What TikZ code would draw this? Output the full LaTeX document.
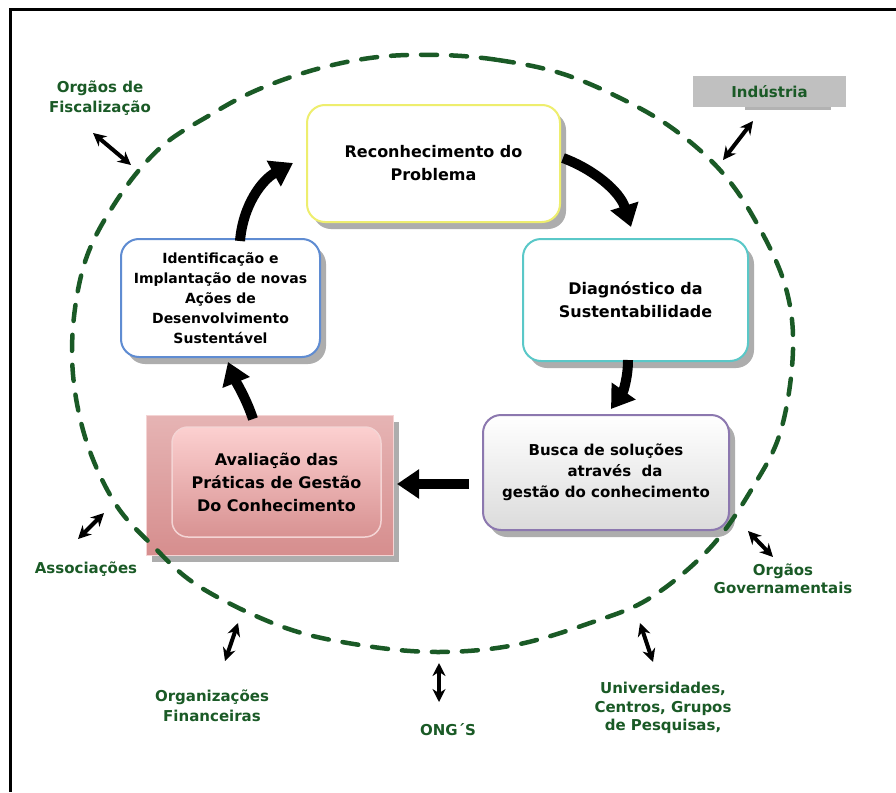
\documentclass[tikz,border=0pt]{standalone}
\usepackage{fontspec}
\setmainfont{DejaVu Sans}
\usetikzlibrary{arrows.meta,shadows}
\definecolor{lblgreen}{RGB}{26,90,38}
\definecolor{yellowb}{RGB}{238,238,110}
\definecolor{tealb}{RGB}{90,200,200}
\definecolor{purpleb}{RGB}{140,120,175}
\definecolor{blueb}{RGB}{95,140,210}
\definecolor{pinkouttop}{RGB}{230,180,180}
\definecolor{pinkoutbot}{RGB}{214,142,142}
\definecolor{pinkintop}{RGB}{252,208,208}
\definecolor{pinkinbot}{RGB}{216,146,146}
\definecolor{pinkedge}{RGB}{244,212,212}
\definecolor{indgray}{RGB}{192,192,192}
\begin{document}
\begin{tikzpicture}[x=1pt,y=-1pt,
  pbox/.style={rounded corners=18pt, line width=2pt, fill=white, align=center,
    inner sep=0pt,
    drop shadow={shadow xshift=6pt,shadow yshift=-7pt,fill=black!40,opacity=0.8}},
  boxfont/.style={font=\bfseries\fontsize{16}{23}\selectfont},
  lbl/.style={text=lblgreen, align=center, inner sep=0pt,
    font=\bfseries\fontsize{15}{20}\selectfont},
  bigarrow/.style={line width=10pt, -{Triangle[length=22pt,width=28pt]}},
  dbl/.style={line width=4pt, {Stealth[length=13pt,width=13pt]}-{Stealth[length=13pt,width=13pt]}},
  ring/.style={draw=lblgreen, line width=4.5pt, dash pattern=on 16pt off 14pt, line cap=round}
]
\useasboundingbox (0,0) rectangle (896,792);
\fill[white] (0,0) rectangle (896,792);
\draw[line width=3pt] (896,10) -- (10,10) -- (10,792);

% Industria box
\fill[black!30] (745,104) rectangle (831,110);
\node[fill=indgray, minimum width=153pt, minimum height=31pt, inner sep=0pt,
  text=lblgreen, font=\bfseries\fontsize{15}{20}\selectfont] (ind) at (769.5,91.5) {Indústria};

% main boxes
\node[pbox, draw=yellowb, minimum width=253pt, minimum height=117pt, boxfont] (rec) at (433.5,163.5) {Reconhecimento do\\Problema};
\node[pbox, draw=tealb, minimum width=225pt, minimum height=122pt, boxfont] (diag) at (635.5,300) {Diagnóstico da\\Sustentabilidade};
\node[pbox, draw=purpleb, minimum width=246pt, minimum height=115pt, top color=white, bottom color=black!14,
  font=\bfseries\fontsize{15}{21}\selectfont] (busca) at (606,472.5) {Busca de soluções\\\hspace*{1.2em}através\ \ da\\gestão do conhecimento};
\node[pbox, draw=blueb, minimum width=199pt, minimum height=118pt,
  font=\bfseries\fontsize{14}{20}\selectfont] (ident) at (220.5,298) {Identificação e\\Implantação de novas\\Ações de\\Desenvolvimento\\Sustentável};

\node[draw=pinkedge, line width=1pt, top color=pinkouttop, bottom color=pinkoutbot, minimum width=247pt, minimum height=140pt,
  drop shadow={shadow xshift=6pt,shadow yshift=-7pt,fill=black!40,opacity=0.8}] (avalout) at (269.5,485) {};
\node[draw=pinkedge, line width=1.5pt, rounded corners=16pt, top color=pinkintop, bottom color=pinkinbot,
  minimum width=209pt, minimum height=110pt, align=center, inner sep=0pt, boxfont] (aval) at (276.5,482) {Avaliação das\\Práticas de Gestão\\Do Conhecimento};

% dashed ring
\draw[ring] plot[smooth cycle, tension=0.6] coordinates {
 (440,55) (498,60) (560,73) (618,97) (672,128) (720,170) (755,220) (785,285) (793,350) (781,430)
 (753,487) (710,548) (650,598) (590,623) (515,645) (438,652) (360,645) (283,627)
 (200,587) (152,545) (113,500) (83,430) (72,350) (84,265) (117,200) (160,148)
 (210,115) (257,90) (317,69) (378,57)};

% big cycle arrows
\coordinate (a1s) at (240,241); \coordinate (a1e) at (293,163);
\coordinate (a2s) at (563,158); \coordinate (a2e) at (631,227);
\coordinate (a3s) at (628,360); \coordinate (a3e) at (611,409);
\coordinate (a4s) at (469,484); \coordinate (a4e) at (397,484);
\coordinate (a5s) at (253,419); \coordinate (a5e) at (228,362);
\draw[bigarrow] (a1s) .. controls (243,205) and (262,180) .. (a1e);
\draw[bigarrow] (a2s) .. controls (595,170) and (620,192) .. (a2e);
\draw[bigarrow] (a3s) .. controls (628,378) and (623,392) .. (a3e);
\draw[bigarrow] (a4s) -- (a4e);
\draw[bigarrow] (a5s) .. controls (246,398) and (236,382) .. (a5e);

% outer labels
\node[lbl] (fisc) at (100,98) {Orgãos de\\Fiscalização};
\node[lbl] (assoc) at (86,569) {Associações};
\node[lbl] (orgfin) at (212,706) {Organizações\\Financeiras};
\node[lbl] (ong) at (448,730) {ONG´S};
\node[lbl, font=\bfseries\fontsize{15}{18.5}\selectfont] (univ) at (663,708) {Universidades,\\Centros, Grupos\\de Pesquisas,};
\node[lbl, font=\bfseries\fontsize{15}{18.5}\selectfont] (gov) at (783,579) {Orgãos\\Governamentais};

% double arrows
\coordinate (f1) at (93,133); \coordinate (f2) at (131,165);
\coordinate (i1) at (753,121); \coordinate (i2) at (723,160);
\coordinate (s1) at (104,513); \coordinate (s2) at (78,539);
\coordinate (o1) at (238,623); \coordinate (o2) at (225,661);
\coordinate (n1) at (439,663); \coordinate (n2) at (439,702);
\coordinate (u1) at (640,623); \coordinate (u2) at (653,662);
\coordinate (g1) at (748,531); \coordinate (g2) at (773,557);
\draw[dbl] (f1) -- (f2);
\draw[dbl] (i1) -- (i2);
\draw[dbl] (s1) -- (s2);
\draw[dbl] (o1) -- (o2);
\draw[dbl] (n1) -- (n2);
\draw[dbl] (u1) -- (u2);
\draw[dbl] (g1) -- (g2);
\end{tikzpicture}
\end{document}
